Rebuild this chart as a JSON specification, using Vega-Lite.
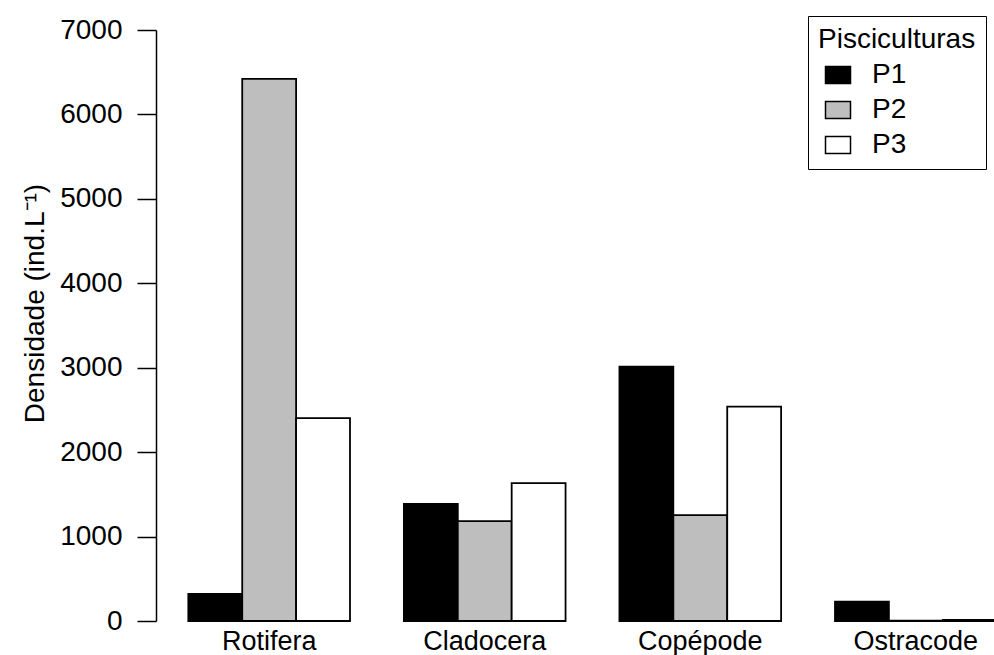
{
  "$schema": "https://vega.github.io/schema/vega-lite/v6.json",
  "autosize": "none",
  "padding": {"left": 156, "top": 30, "right": 0, "bottom": 34},
  "width": 838,
  "height": 591,
  "background": "white",
  "config": {
    "view": {"stroke": null},
    "font": "Liberation Sans",
    "axis": {"labelFont": "Liberation Sans", "titleFont": "Liberation Sans", "labelColor": "black", "titleColor": "black", "grid": false},
    "legend": {"labelFont": "Liberation Sans", "titleFont": "Liberation Sans"}
  },
  "data": {
    "values": [
      {"grupo": "Rotifera", "Piscicultura": "P1", "densidade": 320},
      {"grupo": "Rotifera", "Piscicultura": "P2", "densidade": 6420},
      {"grupo": "Rotifera", "Piscicultura": "P3", "densidade": 2404},
      {"grupo": "Cladocera", "Piscicultura": "P1", "densidade": 1386},
      {"grupo": "Cladocera", "Piscicultura": "P2", "densidade": 1184},
      {"grupo": "Cladocera", "Piscicultura": "P3", "densidade": 1634},
      {"grupo": "Copépode", "Piscicultura": "P1", "densidade": 3012},
      {"grupo": "Copépode", "Piscicultura": "P2", "densidade": 1255},
      {"grupo": "Copépode", "Piscicultura": "P3", "densidade": 2538},
      {"grupo": "Ostracode", "Piscicultura": "P1", "densidade": 229},
      {"grupo": "Ostracode", "Piscicultura": "P2", "densidade": 4},
      {"grupo": "Ostracode", "Piscicultura": "P3", "densidade": 14}
    ]
  },
  "mark": {"type": "bar", "stroke": "black", "strokeWidth": 1.8, "strokeJoin": "miter"},
  "encoding": {
    "x": {
      "field": "grupo",
      "type": "nominal",
      "sort": ["Rotifera", "Cladocera", "Copépode", "Ostracode"],
      "scale": {"paddingInner": 0.25, "paddingOuter": 0.15, "range": [0, 873]},
      "axis": {"title": null, "domain": false, "ticks": false, "labelAngle": 0, "labelFontSize": 27, "labelBaseline": "alphabetic", "labelPadding": 28}
    },
    "xOffset": {
      "field": "Piscicultura",
      "type": "nominal",
      "sort": ["P1", "P2", "P3"],
      "scale": {"paddingInner": 0, "paddingOuter": 0}
    },
    "y": {
      "field": "densidade",
      "type": "quantitative",
      "scale": {"domain": [0, 7000], "nice": false, "zero": true},
      "axis": {
        "title": "Densidade (ind.L⁻¹)",
        "titleFontSize": 28,
        "titleFontWeight": "normal",
        "titleX": -113,
        "titleY": 273,
        "titleAngle": 270,
        "titleBaseline": "alphabetic",
        "titleAlign": "center",
        "values": [0, 1000, 2000, 3000, 4000, 5000, 6000, 7000],
        "format": "d",
        "labelFontSize": 28,
        "labelPadding": 15,
        "tickSize": 19,
        "tickColor": "black",
        "tickWidth": 1.5,
        "domainColor": "black",
        "domainWidth": 1.5
      }
    },
    "fill": {
      "field": "Piscicultura",
      "type": "nominal",
      "scale": {"domain": ["P1", "P2", "P3"], "range": ["#000000", "#BEBEBE", "#FFFFFF"]},
      "legend": {
        "title": "Pisciculturas",
        "orient": "none",
        "legendX": 652,
        "legendY": -14,
        "strokeColor": "black",
        "fillColor": "white",
        "padding": 10,
        "titleFontSize": 28,
        "titleFontWeight": "normal",
        "titleColor": "black",
        "titlePadding": 7,
        "labelFontSize": 28,
        "labelColor": "black",
        "labelOffset": 20,
        "rowPadding": 7,
        "symbolType": "M-1,-0.68H1V0.68H-1Z",
        "symbolSize": 625,
        "symbolStrokeColor": "black",
        "symbolStrokeWidth": 1.5,
        "symbolOffset": 6
      }
    }
  }
}
